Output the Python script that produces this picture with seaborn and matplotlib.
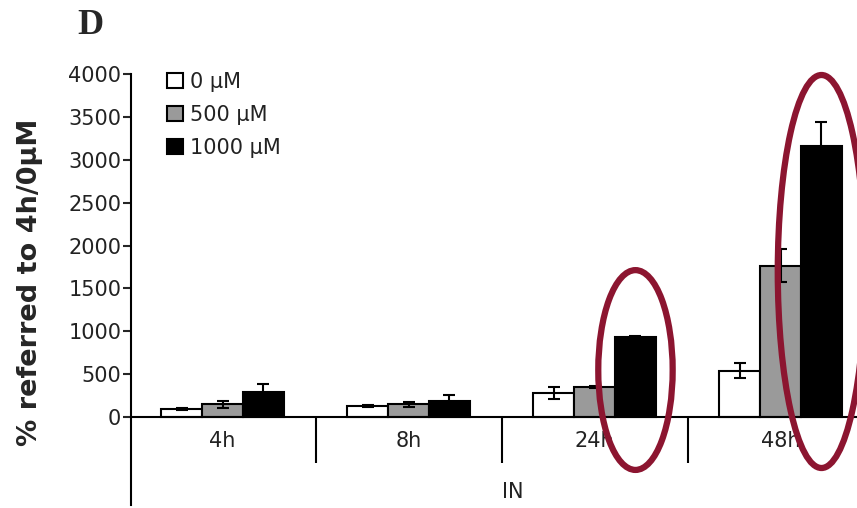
import numpy as np
import pandas as pd
import matplotlib
matplotlib.use("Agg")
import matplotlib.pyplot as plt
from matplotlib.patches import Ellipse
import seaborn as sns

# ---- data ----
times = ["4h", "8h", "24h", "48h"]
concs = ["0 μM", "500 μM", "1000 μM"]
vals_0 = [95, 128, 283, 540]
vals_500 = [150, 150, 353, 1764]
vals_1000 = [295, 190, 929, 3160]
err_0 = [10, 12, 70, 85]
err_500 = [40, 30, 10, 190]
err_1000 = [90, 66, 20, 283]
yticks = [0, 500, 1000, 1500, 2000, 2500, 3000, 3500, 4000]
highlight = ["24h", "48h"]

sns.set_theme(style="white")
plt.rcParams['font.family'] = ['DejaVu Sans']

df = pd.DataFrame({
    "time": times * 3,
    "conc": [concs[0]] * 4 + [concs[1]] * 4 + [concs[2]] * 4,
    "value": vals_0 + vals_500 + vals_1000,
})
errs = [err_0, err_500, err_1000]

fig = plt.figure(figsize=(8.57, 5.08), dpi=100)
ax = fig.add_axes([0.1529, 0.0059, 0.8471, 0.8484])

palette = {concs[0]: "white", concs[1]: "#9a9a9a", concs[2]: "black"}
sns.barplot(data=df, x="time", y="value", hue="conc", order=times,
            hue_order=concs, palette=palette, edgecolor="black",
            linewidth=1.5, width=0.66, errorbar=None, ax=ax, legend=True,
            saturation=1)

for cont, e in zip(ax.containers, errs):
    for bar, ev in zip(cont.patches, e):
        xc = bar.get_x() + bar.get_width() / 2
        ax.errorbar(xc, bar.get_height(), yerr=ev, fmt="none",
                    ecolor="black", elinewidth=1.5, capsize=4.5,
                    capthick=1.5, zorder=3)

ax.set_ylim(-1026, 4000)
ax.set_xlim(-0.492, 3.411)
ax.set_yticks(yticks)
ax.set_yticklabels([str(t) for t in yticks], fontsize=15, color="#222222")
ax.tick_params(axis="y", direction="out", length=6, width=1.5, left=True,
               pad=1)

ax.spines["top"].set_visible(False)
ax.spines["right"].set_visible(False)
ax.spines["bottom"].set_position(("data", 0))
for s in ["left", "bottom"]:
    ax.spines[s].set_linewidth(1.5)
    ax.spines[s].set_color("black")

ax.set_xticks(range(len(times)))
ax.set_xticklabels(times, fontsize=15, color="#222222")
ax.set_xticks([i + 0.5 for i in range(len(times) - 1)], minor=True)
ax.tick_params(axis="x", which="major", length=0, pad=10)
ax.tick_params(axis="x", which="minor", direction="out", length=33,
               width=1.5, bottom=True, color="black")
ax.set_xlabel("")
ax.set_ylabel("")

ax.text(1.56, -875, "IN", ha="center", va="center", fontsize=15,
        color="#222222")

fig.text(0.035, 0.445, "% referred to 4h/0µM", rotation=90, ha="center",
         va="center", fontsize=19.5, fontweight="bold",
         family=["DejaVu Sans"])
fig.text(0.105, 0.95, "D", ha="center", va="center", fontsize=26,
         fontweight="bold", family=["Liberation Serif", "DejaVu Serif"])

leg = ax.legend(loc="upper left", bbox_to_anchor=(0.05, 1.005), frameon=False,
                fontsize=15, handlelength=0.75, handleheight=0.75,
                handletextpad=0.35, labelspacing=0.62, borderpad=0,
                borderaxespad=0)
for h in leg.legend_handles:
    h.set_edgecolor("black")
    h.set_linewidth(1.5)
for t in leg.get_texts():
    t.set_color("#222222")

# highlight ellipses around the 1000 µM bars of selected groups
black_bars = ax.containers[2].patches
sizes = {"24h": (0.40, 2330, 548), "48h": (0.47, 4583, 1697)}
for g in highlight:
    b = black_bars[times.index(g)]
    w, h, cy = sizes[g]
    xc = b.get_x() + b.get_width() / 2
    ax.add_patch(Ellipse((xc, cy), w, h, fill=False, edgecolor="#8c1530",
                         linewidth=4.5, zorder=5, clip_on=False))

fig.savefig("out.png", dpi=100)
